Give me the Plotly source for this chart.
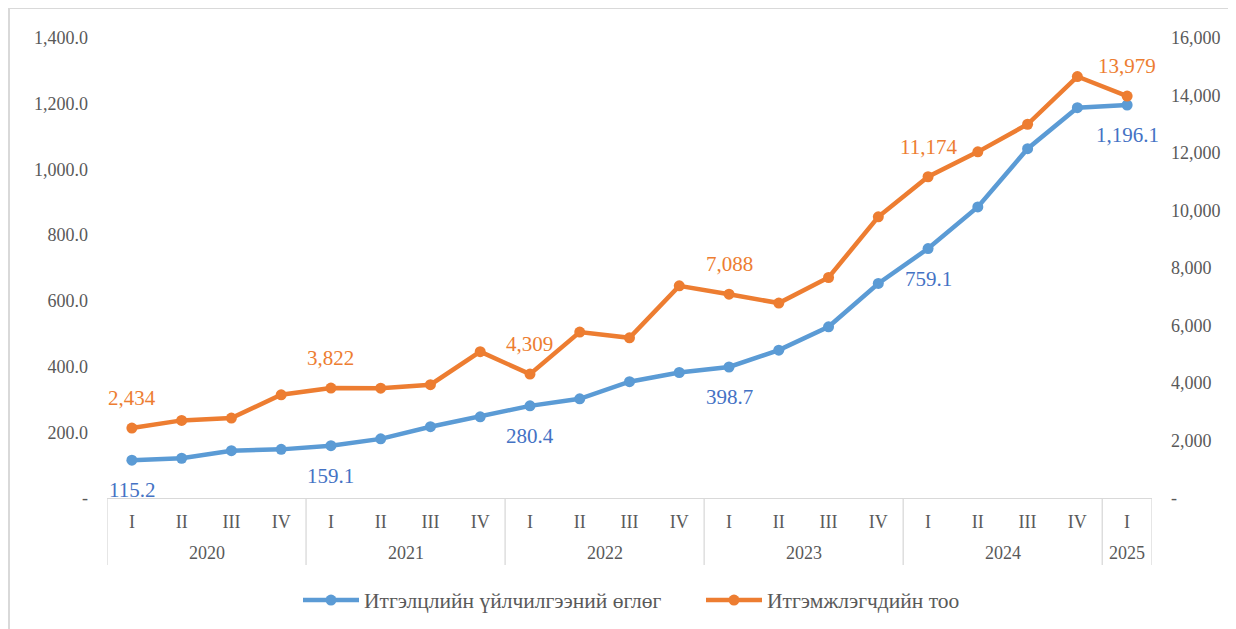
import plotly.graph_objects as go

years = ["2020"] * 4 + ["2021"] * 4 + ["2022"] * 4 + ["2023"] * 4 + ["2024"] * 4 + ["2025"]
quarters = ["I", "II", "III", "IV"] * 5 + ["I"]

trust_payables = [115.2, 121, 144, 148, 159.1, 180, 217, 247, 280.4, 302, 354, 382,
                  398.7, 450, 521, 653, 759.1, 886, 1063, 1188, 1196.1]
trustors = [2434, 2700, 2780, 3590, 3822, 3820, 3940, 5090, 4309, 5770, 5570, 7380,
            7088, 6780, 7670, 9780, 11174, 12040, 13000, 14660, 13979]

label_idx = [0, 4, 8, 12, 16, 20]

left_ticks = [0, 200, 400, 600, 800, 1000, 1200, 1400]
left_text = ["-", "200.0", "400.0", "600.0", "800.0", "1,000.0", "1,200.0", "1,400.0"]
right_ticks = [0, 2000, 4000, 6000, 8000, 10000, 12000, 14000, 16000]
right_text = ["-", "2,000", "4,000", "6,000", "8,000", "10,000", "12,000", "14,000", "16,000"]

name_blue = "Итгэлцлийн үйлчилгээний өглөг"
name_orange = "Итгэмжлэгчдийн тоо"

BLUE = "#5B9BD5"
BLUE_TXT = "#4472C4"
ORANGE = "#ED7D31"
FONT = "Liberation Serif, DejaVu Serif, serif"
GREY = "#595959"
LINEGREY = "#D9D9D9"

idx = list(range(len(quarters)))

fig = go.Figure()
fig.add_trace(go.Scatter(
    x=idx, y=trust_payables, name=name_blue, mode="lines+markers",
    line=dict(color=BLUE, width=4.5), marker=dict(size=11, color=BLUE), yaxis="y"))
fig.add_trace(go.Scatter(
    x=idx, y=trustors, name=name_orange, mode="lines+markers",
    line=dict(color=ORANGE, width=4.5), marker=dict(size=11, color=ORANGE), yaxis="y2"))

# figure geometry (page body adds an 8px offset)
W, H = 1228, 621
L, R, T, B = 99, 84, 30, 131
pw, ph = W - L - R, H - T - B
def px(xp):
    return (xp - L) / pw
def py(yp):
    return (H - B - yp) / ph

annotations = []
for i in label_idx:
    annotations.append(dict(x=i, y=trust_payables[i], xref="x", yref="y",
                            text=f"{trust_payables[i]:,.1f}", showarrow=False, yshift=-30,
                            font=dict(family=FONT, size=21, color=BLUE_TXT)))
    annotations.append(dict(x=i, y=trustors[i], xref="x", yref="y2",
                            text=f"{trustors[i]:,.0f}", showarrow=False, yshift=30,
                            font=dict(family=FONT, size=21, color=ORANGE)))

# year group labels and dividers
groups = []
for i, yv in enumerate(years):
    if not groups or groups[-1][0] != yv:
        groups.append([yv, i, i])
    else:
        groups[-1][2] = i

shapes = []
div_bottom = -67 / ph
for yv, a, b in groups:
    annotations.append(dict(x=(a + b) / 2, y=0, xref="x", yref="paper", text=yv,
                            showarrow=False, yshift=-55, yanchor="middle",
                            font=dict(family=FONT, size=18, color=GREY)))
    shapes.append(dict(type="line", xref="x", yref="paper", x0=a - 0.5, x1=a - 0.5,
                       y0=0, y1=div_bottom, line=dict(color=LINEGREY, width=1.3)))
shapes.append(dict(type="line", xref="x", yref="paper", x0=groups[-1][2] + 0.5,
                   x1=groups[-1][2] + 0.5, y0=0, y1=div_bottom,
                   line=dict(color=LINEGREY, width=1.3)))

# outer chart frame (top and left)
shapes += [
    dict(type="line", xref="paper", yref="paper", x0=px(1), x1=px(W + 5), y0=py(0), y1=py(0),
         line=dict(color=LINEGREY, width=2)),
    dict(type="line", xref="paper", yref="paper", x0=px(1), x1=px(1), y0=py(0), y1=py(H + 5),
         line=dict(color=LINEGREY, width=2)),
]

fig.update_layout(
    width=W, height=H, margin=dict(l=L, r=R, t=T, b=B, autoexpand=False),
    paper_bgcolor="white", plot_bgcolor="white",
    font=dict(family=FONT, size=18, color=GREY),
    showlegend=True,
    legend=dict(orientation="h", x=px(290), xanchor="left", y=-0.222, yanchor="middle",
                itemwidth=56, entrywidth=332, entrywidthmode="pixels",
                font=dict(family=FONT, size=21.5, color=GREY)),
    xaxis=dict(range=[-0.5, len(idx) - 0.5], tickvals=idx, ticktext=quarters,
               showline=True, linecolor=LINEGREY, linewidth=1.3,
               showgrid=False, zeroline=False, ticks="", ticklabelstandoff=7,
               tickfont=dict(family=FONT, size=18, color=GREY)),
    yaxis=dict(range=[0, 1400], tickvals=left_ticks, ticktext=left_text, showgrid=False,
               zeroline=False, showline=False, ticks="", ticklabelstandoff=18,
               tickfont=dict(family=FONT, size=18, color=GREY)),
    yaxis2=dict(range=[0, 16000], tickvals=right_ticks, ticktext=right_text, showgrid=False,
                zeroline=False, showline=False, ticks="", overlaying="y", side="right",
                ticklabelstandoff=18, tickfont=dict(family=FONT, size=18, color=GREY)),
    annotations=annotations, shapes=shapes,
)

fig.write_html("out.html")
